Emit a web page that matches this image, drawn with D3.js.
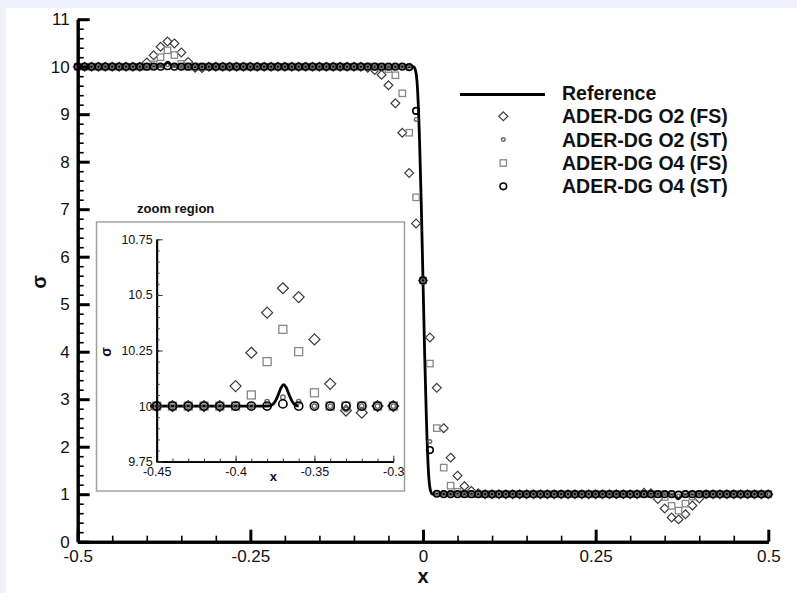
<!DOCTYPE html>
<html>
<head>
<meta charset="utf-8">
<script src="https://cdn.jsdelivr.net/npm/d3@7"></script>
<style>
  html, body { margin: 0; padding: 0; background: #eef0fb; }
  svg { display: block; }
  text { font-family: "Liberation Sans", Arial, Helvetica, sans-serif; fill: #111; }
</style>
</head>
<body>
<svg id="chart" width="797" height="593"></svg>
<script>
// ---------------- data ----------------
const xValues = [
  -0.50,-0.49,-0.48,-0.47,-0.46,-0.45,-0.44,-0.43,-0.42,-0.41,
  -0.40,-0.39,-0.38,-0.37,-0.36,-0.35,-0.34,-0.33,-0.32,-0.31,
  -0.30,-0.29,-0.28,-0.27,-0.26,-0.25,-0.24,-0.23,-0.22,-0.21,
  -0.20,-0.19,-0.18,-0.17,-0.16,-0.15,-0.14,-0.13,-0.12,-0.11,
  -0.10,-0.09,-0.08,-0.07,-0.06,-0.05,-0.04,-0.03,-0.02,-0.01,
   0.00, 0.01, 0.02, 0.03, 0.04, 0.05, 0.06, 0.07, 0.08, 0.09,
   0.10, 0.11, 0.12, 0.13, 0.14, 0.15, 0.16, 0.17, 0.18, 0.19,
   0.20, 0.21, 0.22, 0.23, 0.24, 0.25, 0.26, 0.27, 0.28, 0.29,
   0.30, 0.31, 0.32, 0.33, 0.34, 0.35, 0.36, 0.37, 0.38, 0.39,
   0.40, 0.41, 0.42, 0.43, 0.44, 0.45, 0.46, 0.47, 0.48, 0.49,
   0.50
];
// ADER-DG O2 (FS) - diamonds
const o2fs = [
  10,10,10,10,10,10,10,10,10,10,
  10.09,10.24,10.42,10.53,10.49,10.30,10.10,9.98,9.97,10,
  10,10,10,10,10,10,10,10,10,10,
  10,10,10,10,10,10,10,10,10,10,
  10,10,9.98,9.93,9.83,9.61,9.23,8.61,7.76,6.70,
  5.50,4.30,3.24,2.39,1.77,1.39,1.17,1.07,1.02,1,
  1,1,1,1,1,1,1,1,1,1,
  1,1,1,1,1,1,1,1,1,1,
  1,1,1.03,1.02,0.90,0.70,0.51,0.47,0.58,0.76,
  0.91,1,1,1,1,1,1,1,1,1,
  1
];
// ADER-DG O2 (ST) - small circles
const o2st = [
  10,10,10,10,10,10,10,10,10,10,
  10,10,10.02,10.04,10.02,10,10,9.985,10,10,
  10,10,10,10,10,10,10,10,10,10,
  10,10,10,10,10,10,10,10,10,10,
  10,10,10,10,10,10,10,10,9.98,8.89,
  5.50,2.11,1.02,1,1,1,1,1,1,1,
  1,1,1,1,1,1,1,1,1,1,
  1,1,1,1,1,1,1,1,1,1,
  1,1,1,1.015,1,1,0.98,0.96,0.98,1,
  1,1,1,1,1,1,1,1,1,1,
  1
];
// ADER-DG O4 (FS) - squares
const o4fs = [
  10,10,10,10,10,10,10,10,10,10,
  10,10.05,10.20,10.345,10.245,10.06,10,10,10,10,
  10,10,10,10,10,10,10,10,10,10,
  10,10,10,10,10,10,10,10,10,10,
  10,10,10,10,9.99,9.95,9.82,9.44,8.61,7.25,
  5.50,3.75,2.39,1.56,1.18,1.05,1.01,1,1,1,
  1,1,1,1,1,1,1,1,1,1,
  1,1,1,1,1,1,1,1,1,1,
  1,1,1,1,1,0.94,0.755,0.655,0.80,0.95,
  1,1,1,1,1,1,1,1,1,1,
  1
];
// ADER-DG O4 (ST) - open circles
const o4st = [
  10,10,10,10,10,10,10,10,10,10,
  10,10,10,10.01,10,10,10,10,10,10,
  10,10,10,10,10,10,10,10,10,10,
  10,10,10,10,10,10,10,10,10,10,
  10,10,10,10,10,10,10,10,9.99,9.07,
  5.50,1.93,1.01,1,1,1,1,1,1,1,
  1,1,1,1,1,1,1,1,1,1,
  1,1,1,1,1,1,1,1,1,1,
  1,1,1,1,1,1,1,0.99,1,1,
  1,1,1,1,1,1,1,1,1,1,
  1
];
// Reference solution
const refX = [-0.5,-0.38,-0.377,-0.375,-0.373,-0.371,-0.3695,-0.368,-0.366,-0.364,-0.362,-0.36,
  -0.02,-0.014,-0.011,-0.008,-0.005,-0.0025,0,0.0025,0.005,0.008,0.011,0.014,0.02,
  0.36,0.362,0.364,0.366,0.368,0.3695,0.371,0.373,0.375,0.377,0.38,0.5];
const refY = [10,10,10.005,10.02,10.05,10.085,10.097,10.085,10.05,10.02,10.005,10,
  10,10,9.93,9.55,8.45,7.1,5.5,3.9,2.55,1.45,1.07,1,1,
  1,0.995,0.98,0.95,0.915,0.903,0.915,0.95,0.98,0.995,1,1];

const mainXTicks = [-0.5, -0.25, 0, 0.25, 0.5];
const mainXTickLabels = ["-0.5", "-0.25", "0", "0.25", "0.5"];
const mainYTicks = [0,1,2,3,4,5,6,7,8,9,10,11];
const insetXTicks = [-0.45, -0.4, -0.35, -0.3];
const insetXTickLabels = ["-0.45", "-0.4", "-0.35", "-0.3"];
const insetYTicks = [9.75, 10, 10.25, 10.5, 10.75];
const insetYTickLabels = ["9.75", "10", "10.25", "10.5", "10.75"];

const seriesNames = ["Reference", "ADER-DG O2 (FS)", "ADER-DG O2 (ST)", "ADER-DG O4 (FS)", "ADER-DG O4 (ST)"];

// ---------------- drawing ----------------
const svg = d3.select("#chart");
svg.append("rect").attr("x", 6).attr("y", 8).attr("width", 791).attr("height", 585).attr("fill", "#ffffff");

const x = d3.scaleLinear().domain([-0.5, 0.5]).range([77.7, 768.3]);
const y = d3.scaleLinear().domain([0, 11]).range([541.7, 19.2]);

const xi = d3.scaleLinear().domain([-0.45, -0.3]).range([156.7, 393.3]);
const yi = d3.scaleLinear().domain([9.75, 10.75]).range([461.7, 239.3]);

const refData = refX.map((v, i) => [v, refY[i]]);
const ptData = (arr) => xValues.map((v, i) => [v, arr[i]]);

const styles = {
  o2fs: { stroke: "#3a3a3a", width: 1.2 },
  o2st: { stroke: "#6a6a6a", width: 1.4 },
  o4fs: { stroke: "#888", width: 1.3 },
  o4st: { stroke: "#000", width: 1.6 }
};

function drawMarker(g, kind, cx, cy, scale) {
  const s = scale || 1;
  if (kind === "o2fs") {
    const h = 4.4 * s;
    g.append("path")
      .attr("d", `M${cx},${cy - h}L${cx + h},${cy}L${cx},${cy + h}L${cx - h},${cy}Z`)
      .attr("fill", "none").attr("stroke", styles.o2fs.stroke).attr("stroke-width", styles.o2fs.width);
  } else if (kind === "o2st") {
    g.append("circle").attr("cx", cx).attr("cy", cy).attr("r", 1.8 * s)
      .attr("fill", "none").attr("stroke", styles.o2st.stroke).attr("stroke-width", styles.o2st.width);
  } else if (kind === "o4fs") {
    const h = 3.2 * s;
    g.append("rect").attr("x", cx - h).attr("y", cy - h).attr("width", 2 * h).attr("height", 2 * h)
      .attr("fill", "none").attr("stroke", styles.o4fs.stroke).attr("stroke-width", styles.o4fs.width);
  } else if (kind === "o4st") {
    g.append("circle").attr("cx", cx).attr("cy", cy).attr("r", 3.3 * s)
      .attr("fill", "none").attr("stroke", styles.o4st.stroke).attr("stroke-width", styles.o4st.width);
  }
}

// ----- main plot -----
const main = svg.append("g");

const line = d3.line().x(d => x(d[0])).y(d => y(d[1])).curve(d3.curveMonotoneX);
main.append("path").datum(refData).attr("d", line)
  .attr("fill", "none").attr("stroke", "#000").attr("stroke-width", 2.8);

const seriesOrder = [["o2fs", o2fs], ["o4fs", o4fs], ["o2st", o2st], ["o4st", o4st]];
seriesOrder.forEach(([kind, arr]) => {
  const g = main.append("g");
  ptData(arr).forEach(d => drawMarker(g, kind, x(d[0]), y(d[1]), 1));
});

// main axes
const axisG = svg.append("g");
const xAxis = d3.axisBottom(x).tickValues(mainXTicks).tickSizeInner(-12).tickSizeOuter(0)
  .tickPadding(20).tickFormat((d, i) => mainXTickLabels[i]);
const xAxisG = axisG.append("g").attr("transform", `translate(0,${y(0)})`).call(xAxis);
const xMinor = d3.axisBottom(x).tickValues(d3.range(-0.5, 0.5001, 0.05).filter(v => Math.abs(Math.round(v * 4) - v * 4) > 1e-6))
  .tickSizeInner(-6).tickSizeOuter(0).tickFormat("");
const xMinorG = axisG.append("g").attr("transform", `translate(0,${y(0)})`).call(xMinor);
const yAxis = d3.axisLeft(y).tickValues(mainYTicks).tickSizeInner(-12).tickSizeOuter(0)
  .tickPadding(20).tickFormat(d => String(d));
const yAxisG = axisG.append("g").attr("transform", `translate(${x(-0.5)},0)`).call(yAxis);
const yMinor = d3.axisLeft(y).tickValues(d3.range(0, 11.0001, 0.2).filter(v => Math.abs(Math.round(v) - v) > 1e-6))
  .tickSizeInner(-6).tickSizeOuter(0).tickFormat("");
const yMinorG = axisG.append("g").attr("transform", `translate(${x(-0.5)},0)`).call(yMinor);

[xAxisG, xMinorG, yAxisG, yMinorG].forEach(g => {
  g.select(".domain").attr("stroke", "#000").attr("stroke-width", 3);
  g.selectAll(".tick line").attr("stroke", "#000").attr("stroke-width", 1.6);
});
[xAxisG, yAxisG].forEach(g => {
  g.selectAll(".tick line").attr("stroke-width", 3);
  g.selectAll(".tick text").attr("font-size", 17).attr("fill", "#111")
    .attr("font-family", "Liberation Sans, Arial, sans-serif");
});
xAxisG.selectAll(".tick text").attr("dy", "0.71em").attr("y", 8);
yAxisG.selectAll(".tick text").attr("x", -8);

// axis titles
svg.append("text").attr("x", x(0)).attr("y", 583).attr("text-anchor", "middle")
  .attr("font-size", 20).attr("font-weight", "bold").text("x");
svg.append("text").attr("transform", `translate(46,282) rotate(-90)`).attr("text-anchor", "middle")
  .attr("font-size", 20).attr("font-weight", "bold").text("σ");

// ----- legend -----
const lg = svg.append("g");
const legBase = [100, 123.3, 146.6, 170, 193.3];
lg.append("line").attr("x1", 460).attr("x2", 545).attr("y1", 94.5).attr("y2", 94.5)
  .attr("stroke", "#000").attr("stroke-width", 3);
const legKinds = [null, "o2fs", "o2st", "o4fs", "o4st"];
seriesNames.forEach((name, i) => {
  lg.append("text").attr("x", 562).attr("y", legBase[i]).attr("font-size", 19.5)
    .attr("font-weight", "bold").text(name);
  if (legKinds[i]) drawMarker(lg, legKinds[i], 503.3, legBase[i] - 7, 1);
});

// ----- inset -----
const inset = svg.append("g");
inset.append("rect").attr("x", 96.5).attr("y", 222).attr("width", 308).attr("height", 269)
  .attr("fill", "#fff").attr("stroke", "#a0a0a0").attr("stroke-width", 1.5);
svg.append("text").attr("x", 137).attr("y", 213).attr("font-size", 13).attr("font-weight", "bold")
  .text("zoom region");

svg.append("clipPath").attr("id", "insetClip").append("rect")
  .attr("x", 150).attr("y", 235).attr("width", 250).attr("height", 230);

const insetPlot = inset.append("g").attr("clip-path", "url(#insetClip)");
const iline = d3.line().x(d => xi(d[0])).y(d => yi(d[1])).curve(d3.curveMonotoneX);
insetPlot.append("path").datum(refData.filter(d => d[0] >= -0.5 && d[0] <= -0.3)).attr("d", iline)
  .attr("fill", "none").attr("stroke", "#000").attr("stroke-width", 2.8);
seriesOrder.forEach(([kind, arr]) => {
  const g = insetPlot.append("g");
  ptData(arr).filter(d => d[0] >= -0.4501 && d[0] <= -0.2999)
    .forEach(d => drawMarker(g, kind, xi(d[0]), yi(d[1]), 1.25));
});

const ixAxis = d3.axisBottom(xi).tickValues(insetXTicks).tickSizeInner(-6).tickSizeOuter(0)
  .tickPadding(5).tickFormat((d, i) => insetXTickLabels[i]);
const ixG = inset.append("g").attr("transform", `translate(0,${yi(9.75)})`).call(ixAxis);
const ixMinor = d3.axisBottom(xi).tickValues(d3.range(-0.45, -0.2999, 0.01))
  .tickSizeInner(-3).tickSizeOuter(0).tickFormat("");
const ixMG = inset.append("g").attr("transform", `translate(0,${yi(9.75)})`).call(ixMinor);
const iyAxis = d3.axisLeft(yi).tickValues(insetYTicks).tickSizeInner(-6).tickSizeOuter(0)
  .tickPadding(4).tickFormat((d, i) => insetYTickLabels[i]);
const iyG = inset.append("g").attr("transform", `translate(${xi(-0.45)},0)`).call(iyAxis);
const iyMinor = d3.axisLeft(yi).tickValues(d3.range(9.75, 10.7501, 0.05))
  .tickSizeInner(-3).tickSizeOuter(0).tickFormat("");
const iyMG = inset.append("g").attr("transform", `translate(${xi(-0.45)},0)`).call(iyMinor);
[ixG, ixMG, iyG, iyMG].forEach(g => {
  g.select(".domain").attr("stroke", "#000").attr("stroke-width", 1.8);
  g.selectAll(".tick line").attr("stroke", "#333").attr("stroke-width", 1);
  g.selectAll(".tick text").attr("font-size", 12.5).attr("fill", "#111")
    .attr("font-family", "Liberation Sans, Arial, sans-serif");
});
svg.append("text").attr("x", xi(-0.376)).attr("y", 481).attr("text-anchor", "middle")
  .attr("font-size", 13).attr("font-weight", "bold").text("x");
svg.append("text").attr("transform", `translate(111,352) rotate(-90)`).attr("text-anchor", "middle")
  .attr("font-size", 14).attr("font-weight", "bold").text("σ");
</script>
</body>
</html>
